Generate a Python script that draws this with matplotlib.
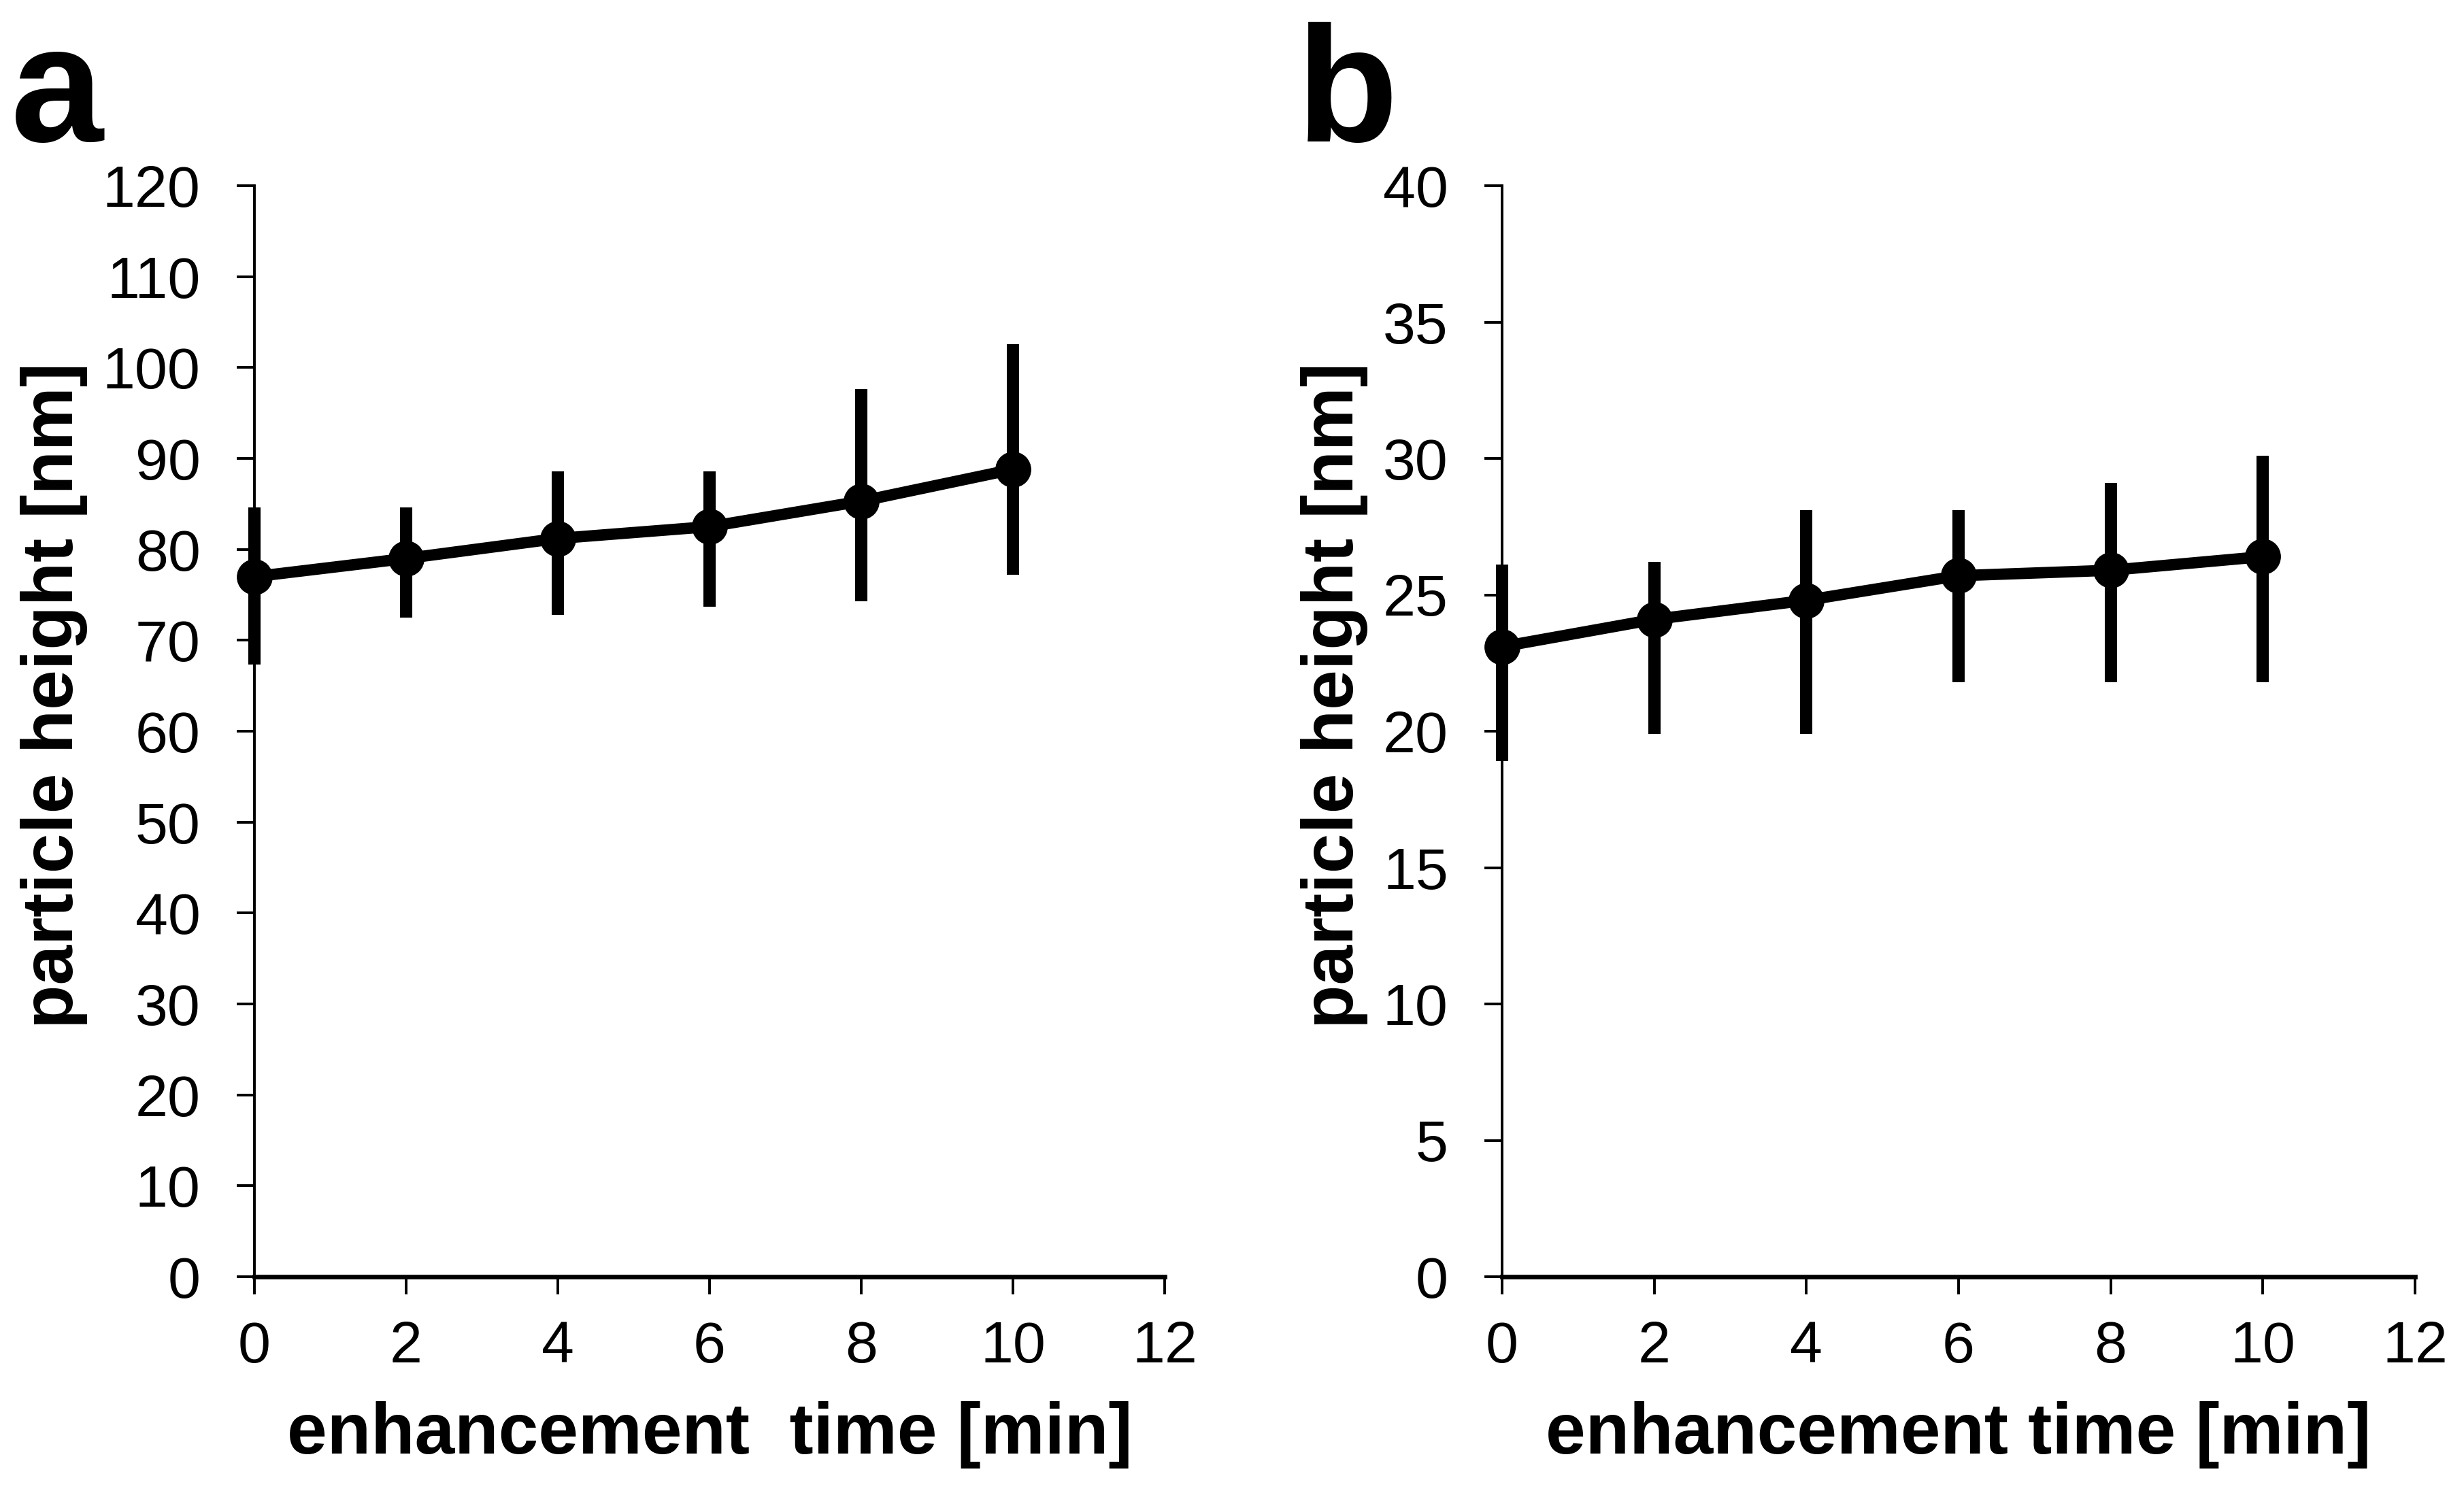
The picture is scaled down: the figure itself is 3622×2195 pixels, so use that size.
import matplotlib
matplotlib.use("Agg")
import matplotlib.pyplot as plt
import numpy as np

plt.rcParams['font.family'] = ['Liberation Sans', 'DejaVu Sans']

time_min = [0, 2, 4, 6, 8, 10]

# panel a
height_a = [77.0, 79.0, 81.2, 82.5, 85.3, 88.8]
upper_a = [84.6, 84.6, 88.6, 88.6, 97.6, 102.6]
lower_a = [67.3, 72.5, 72.8, 73.7, 74.3, 77.2]

# panel b
height_b = [23.1, 24.1, 24.8, 25.7, 25.9, 26.4]
upper_b = [26.1, 26.2, 28.1, 28.1, 29.1, 30.1]
lower_b = [18.9, 19.9, 19.9, 21.8, 21.8, 21.8]

xticks = [0, 2, 4, 6, 8, 10, 12]
yticks_a = list(range(0, 121, 10))
yticks_b = list(range(0, 41, 5))

W, H = 3622, 2195
fig = plt.figure(figsize=(W / 100, H / 100), dpi=100)

def make_axes(left_px, right_px, top_px, bottom_px):
    return fig.add_axes([left_px / W, 1 - bottom_px / H,
                         (right_px - left_px) / W, (bottom_px - top_px) / H])

ax_a = make_axes(374, 1712, 273, 1877)
ax_b = make_axes(2208, 3550, 273, 1877)

def style(ax, y, lo, hi, yticks, ylim, xlabel):
    y = np.asarray(y)
    yerr = [y - np.asarray(lo), np.asarray(hi) - y]
    ax.errorbar(time_min, y, yerr=yerr, color='black', lw=12, elinewidth=13,
                marker='o', markersize=37, capsize=0, clip_on=False, zorder=3)
    ax.set_xlim(0, 12)
    ax.set_ylim(*ylim)
    ax.set_xticks(xticks)
    ax.set_yticks(yticks)
    for s in ['top', 'right']:
        ax.spines[s].set_visible(False)
    ax.spines['left'].set_linewidth(2.8)
    ax.spines['bottom'].set_linewidth(4.8)
    ax.tick_params(axis='both', direction='out', length=19, width=2.8,
                   labelsize=62, colors='black')
    ax.tick_params(axis='y', pad=38)
    ax.tick_params(axis='x', pad=27)
    ax.set_xlabel(xlabel, fontsize=76, fontweight='bold', labelpad=28)
    ax.set_ylabel('particle height [nm]', fontsize=76, fontweight='bold', labelpad=16)
    ax.yaxis.label.set_y(0.533)

style(ax_a, height_a, lower_a, upper_a, yticks_a, (0, 120), 'enhancement  time [min]')
style(ax_b, height_b, lower_b, upper_b, yticks_b, (0, 40), 'enhancement time [min]')

fig.text(16 / W, 1 - 208 / H, 'a', fontsize=176, fontweight='bold', va='baseline', ha='left')
fig.text(1906 / W, 1 - 208 / H, 'b', fontsize=176, fontweight='bold', va='baseline', ha='left')

fig.savefig('out.png', dpi=100, facecolor='white')
